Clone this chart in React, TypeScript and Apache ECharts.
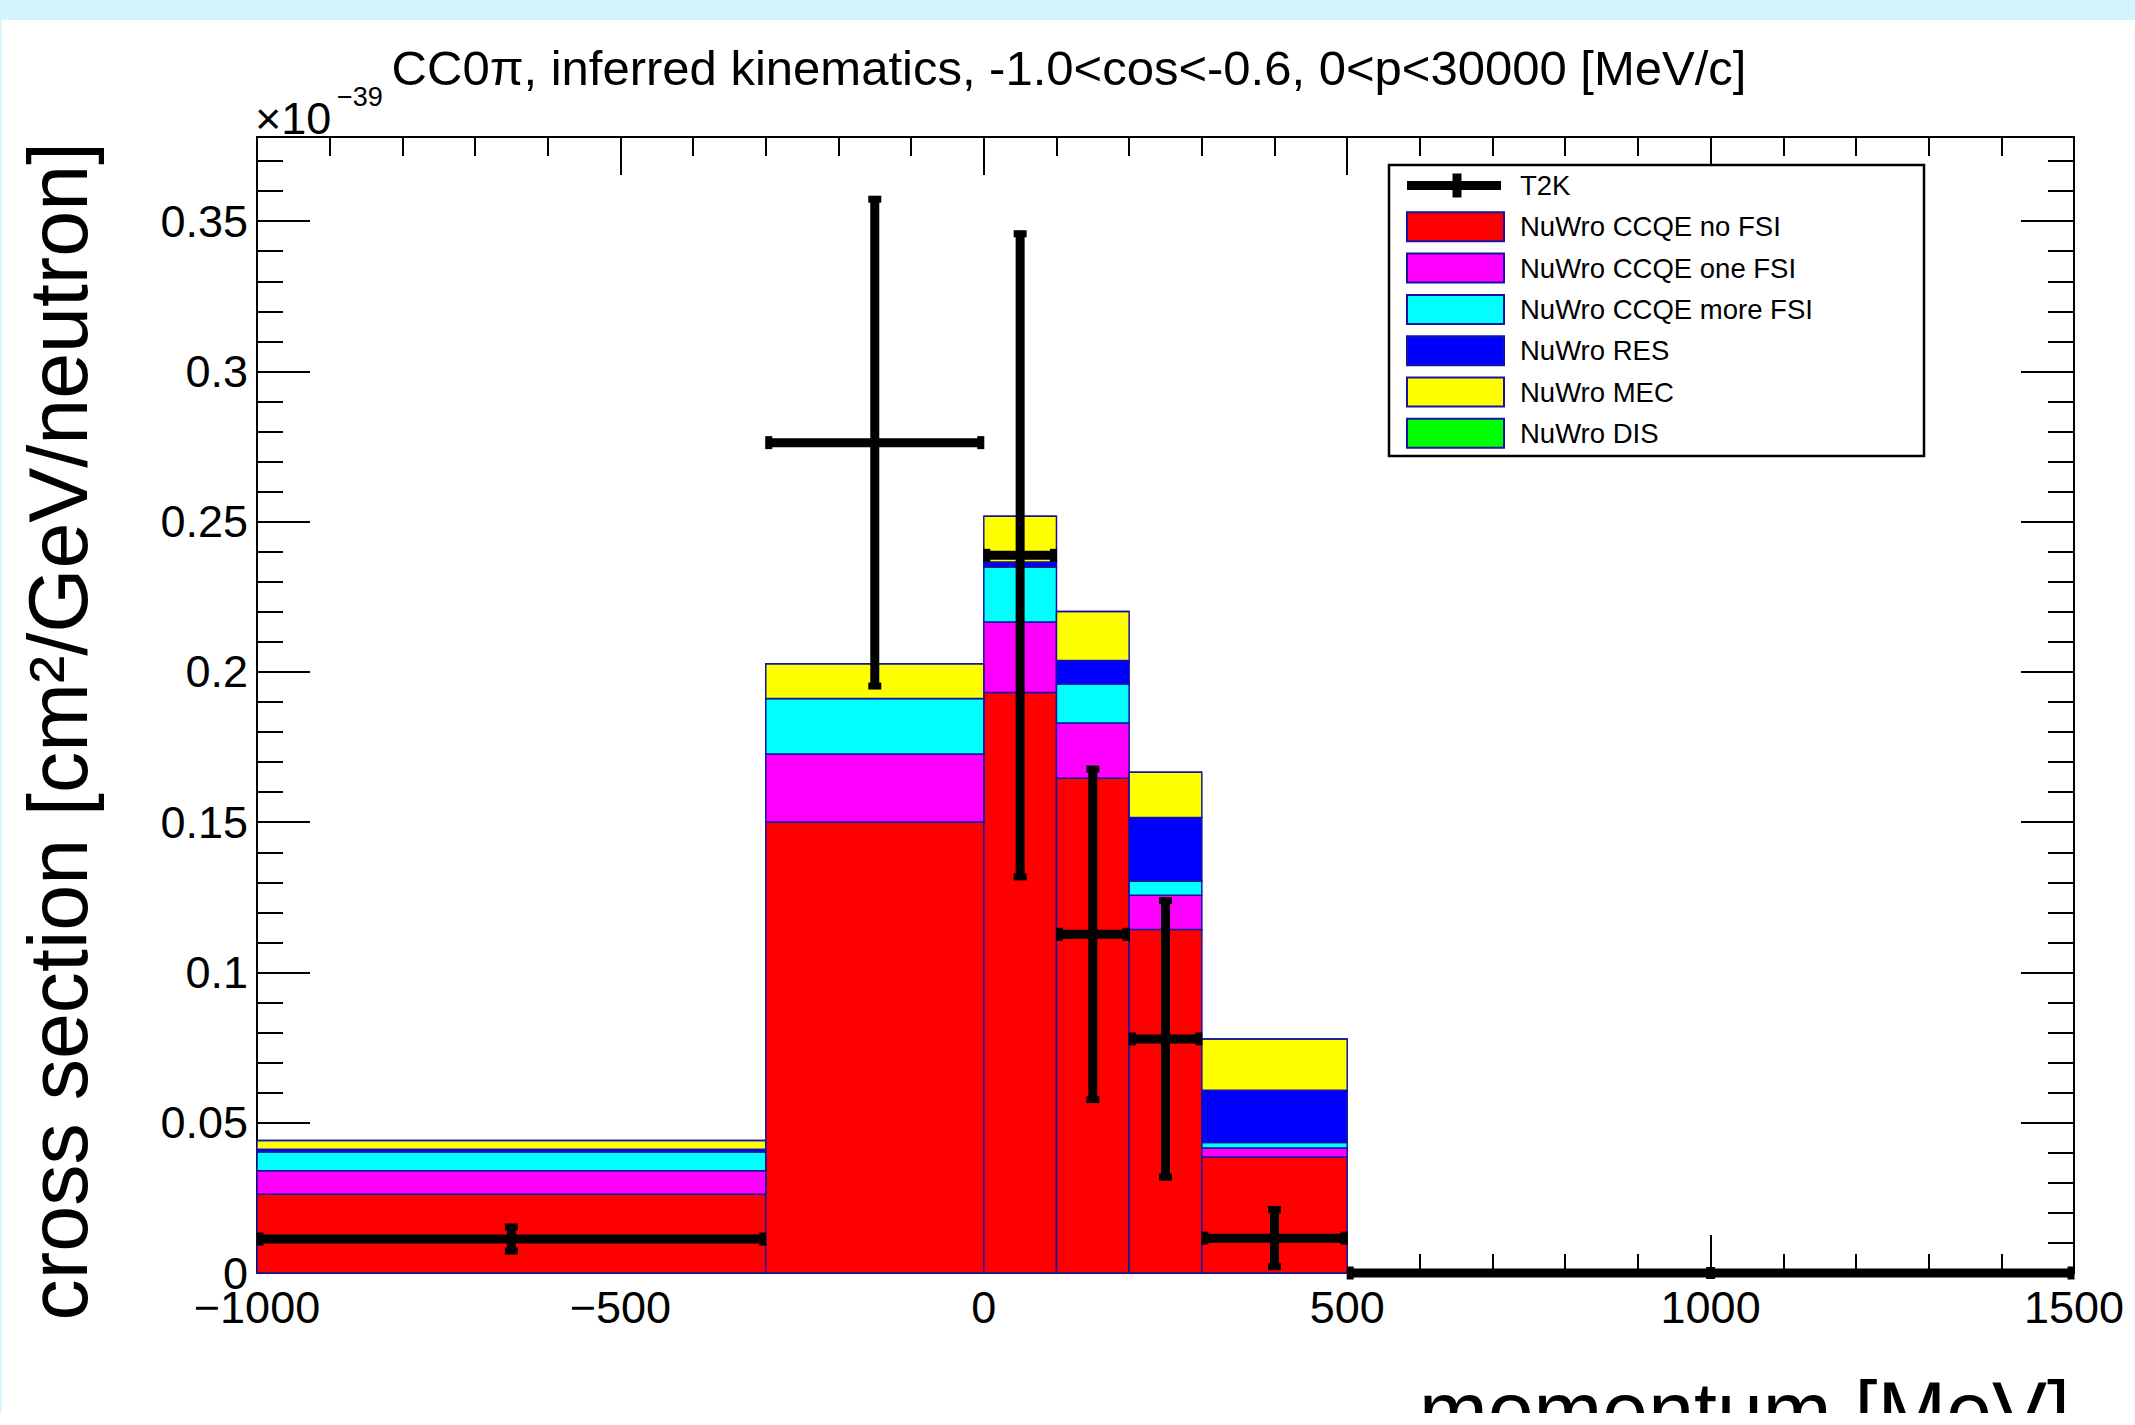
import React, { useEffect, useRef } from 'react';
import * as echarts from 'echarts';

// ---- data (values in units of 1e-39 cm^2/GeV/neutron) ----
const binEdges = [-1000, -300, 0, 100, 200, 300, 500, 1500];
const ccqeNoFsi = [0.0262, 0.1501, 0.1932, 0.1646, 0.1143, 0.0386, 0];
const ccqeOneFsi = [0.0078, 0.0226, 0.0234, 0.0184, 0.0114, 0.0030, 0];
const ccqeMoreFsi = [0.0063, 0.0185, 0.0183, 0.0130, 0.0047, 0.0018, 0];
const resValues = [0.0009, 0.0000, 0.0017, 0.0078, 0.0212, 0.0174, 0];
const mecValues = [0.0029, 0.0115, 0.0152, 0.0163, 0.0150, 0.0171, 0];
const disValues = [0, 0, 0, 0, 0, 0, 0];

const t2kX = [-650, -150, 50, 150, 250, 400, 1000];
const t2kXErr = [350, 150, 50, 50, 50, 100, 500];
const t2kY = [0.0113, 0.2763, 0.2388, 0.1127, 0.0779, 0.0116, 0];
const t2kYErr = [0.005, 0.082, 0.108, 0.056, 0.047, 0.0105, 0];

const componentNames = [
  'NuWro CCQE no FSI',
  'NuWro CCQE one FSI',
  'NuWro CCQE more FSI',
  'NuWro RES',
  'NuWro MEC',
  'NuWro DIS',
];
const componentValues = [ccqeNoFsi, ccqeOneFsi, ccqeMoreFsi, resValues, mecValues, disValues];
const componentColors = ['#ff0000', '#ff00ff', '#00ffff', '#0000ff', '#ffff00', '#00ff00'];
const dataLabel = 'T2K';

const titleText = 'CC0\u03c0, inferred kinematics, -1.0<cos<-0.6, 0<p<30000 [MeV/c]';
const xTitle = 'momentum [MeV]';
const yTitle = 'cross section [cm\u00b2/GeV/neutron]';

const X_MIN = -1000;
const X_MAX = 1500;
const Y_MIN = 0;
const Y_MAX = 0.378;

const FONT = "'Liberation Sans', Arial, Helvetica, sans-serif";
const EDGE = '#1414a0';

function buildOption(): any {
  const stackSeries = componentValues.map((vals, ci) => ({
    type: 'custom',
    name: componentNames[ci],
    xAxisIndex: 0,
    yAxisIndex: 0,
    z: 2,
    encode: { x: [0, 1], y: [2, 3] },
    data: vals.map((v, i) => {
      let base = 0;
      for (let k = 0; k < ci; k++) base += componentValues[k][i];
      return [binEdges[i], binEdges[i + 1], base, base + v];
    }),
    renderItem: (_p: any, api: any) => {
      const tl = api.coord([api.value(0), api.value(3)]);
      const br = api.coord([api.value(1), api.value(2)]);
      return {
        type: 'rect',
        shape: { x: tl[0], y: tl[1], width: br[0] - tl[0], height: br[1] - tl[1] },
        style: { fill: componentColors[ci], stroke: EDGE, lineWidth: 1.5 },
      };
    },
  }));

  const t2kSeries = {
    type: 'custom',
    name: dataLabel,
    xAxisIndex: 0,
    yAxisIndex: 0,
    z: 5,
    encode: { x: 0, y: 2 },
    data: t2kX.map((x, i) => [x, t2kXErr[i], t2kY[i], t2kYErr[i]]),
    renderItem: (_p: any, api: any) => {
      const x = api.value(0);
      const xe = api.value(1);
      const y = api.value(2);
      const ye = api.value(3);
      const pl = api.coord([x - xe, y]);
      const pr = api.coord([x + xe, y]);
      const pt = api.coord([x, y + ye]);
      const pb = api.coord([x, y - ye]);
      const st = { stroke: '#000', lineWidth: 9 };
      const cap = { stroke: '#000', lineWidth: 7 };
      const children: any[] = [
        { type: 'line', shape: { x1: pl[0], y1: pl[1], x2: pr[0], y2: pr[1] }, style: st },
        { type: 'line', shape: { x1: pl[0] + 3, y1: pl[1] - 6.5, x2: pl[0] + 3, y2: pl[1] + 6.5 }, style: cap },
        { type: 'line', shape: { x1: pr[0] - 3, y1: pr[1] - 6.5, x2: pr[0] - 3, y2: pr[1] + 6.5 }, style: cap },
      ];
      if (ye > 0) {
        children.push({ type: 'line', shape: { x1: pt[0], y1: pt[1], x2: pb[0], y2: pb[1] }, style: st });
        children.push({ type: 'line', shape: { x1: pt[0] - 6.5, y1: pt[1] + 3, x2: pt[0] + 6.5, y2: pt[1] + 3 }, style: cap });
        children.push({ type: 'line', shape: { x1: pb[0] - 6.5, y1: pb[1] - 3, x2: pb[0] + 6.5, y2: pb[1] - 3 }, style: cap });
      } else {
        children.push({ type: 'line', shape: { x1: pt[0], y1: pt[1] - 6, x2: pt[0], y2: pt[1] + 6 }, style: st });
      }
      return { type: 'group', children };
    },
  };

  const axisLine = { show: true, onZero: false, lineStyle: { color: '#000', width: 2 } };
  const tickStyle = { color: '#000', width: 2 };
  const xLabel = {
    show: true,
    fontSize: 45,
    fontFamily: FONT,
    color: '#000',
    margin: 12,
    formatter: (v: number) => (v < 0 ? '\u2212' + String(-v) : String(v)),
  };
  const xAxisBase = {
    type: 'value',
    min: X_MIN,
    max: X_MAX,
    interval: 500,
    axisLine,
    axisTick: { show: true, inside: true, length: 38, lineStyle: tickStyle },
    minorTick: { show: true, splitNumber: 5, length: 19, lineStyle: tickStyle },
    splitLine: { show: false },
    minorSplitLine: { show: false },
  };
  const yMajorBase = {
    type: 'value',
    min: Y_MIN,
    max: Y_MAX,
    interval: 0.05,
    axisLine,
    axisTick: { show: true, inside: true, length: 53, lineStyle: tickStyle },
    splitLine: { show: false },
  };
  const yMinorBase = {
    type: 'value',
    min: Y_MIN,
    max: Y_MAX,
    interval: 0.01,
    axisLine: { show: false, onZero: false },
    axisTick: { show: true, inside: true, length: 26, lineStyle: tickStyle },
    axisLabel: { show: false },
    splitLine: { show: false },
  };

  const legendX = 1389;
  const legendY = 165;
  const legendW = 535;
  const legendH = 291;
  const rowY0 = 185.5;
  const rowStep = 41.3;
  const legendEls: any[] = [
    {
      type: 'rect',
      shape: { x: legendX, y: legendY, width: legendW, height: legendH },
      style: { fill: '#fff', stroke: '#000', lineWidth: 2.5 },
      z: 20,
    },
    {
      type: 'line',
      shape: { x1: 1407, y1: rowY0, x2: 1501, y2: rowY0 },
      style: { stroke: '#000', lineWidth: 9 },
      z: 21,
    },
    {
      type: 'line',
      shape: { x1: 1457, y1: rowY0 - 12, x2: 1457, y2: rowY0 + 12 },
      style: { stroke: '#000', lineWidth: 9 },
      z: 21,
    },
    {
      type: 'text',
      x: 1520,
      y: rowY0,
      z: 21,
      style: { text: dataLabel, fontSize: 27.5, fontFamily: FONT, fill: '#000', textAlign: 'left', textVerticalAlign: 'middle' },
    },
  ];
  componentNames.forEach((name, i) => {
    const cy = rowY0 + (i + 1) * rowStep;
    legendEls.push({
      type: 'rect',
      shape: { x: 1407, y: cy - 14.5, width: 97, height: 29 },
      style: { fill: componentColors[i], stroke: EDGE, lineWidth: 2 },
      z: 21,
    });
    legendEls.push({
      type: 'text',
      x: 1520,
      y: cy,
      z: 21,
      style: { text: name, fontSize: 27.5, fontFamily: FONT, fill: '#000', textAlign: 'left', textVerticalAlign: 'middle' },
    });
  });

  return {
    animation: false,
    backgroundColor: '#ffffff',
    grid: {
      left: 257,
      top: 137,
      width: 1817,
      height: 1136,
      containLabel: false,
      outerBoundsMode: 'none',
      show: false,
    },
    xAxis: [
      { ...xAxisBase, position: 'bottom', axisLabel: xLabel },
      { ...xAxisBase, position: 'top', axisLabel: { show: false } },
    ],
    yAxis: [
      {
        ...yMajorBase,
        position: 'left',
        axisLabel: {
          show: true,
          fontSize: 45,
          fontFamily: FONT,
          color: '#000',
          margin: 9,
          showMaxLabel: false,
          formatter: (v: number) => (v === 0 ? '0' : String(+v.toFixed(2))),
        },
      },
      { ...yMajorBase, position: 'right', axisLabel: { show: false } },
      { ...yMinorBase, position: 'left' },
      { ...yMinorBase, position: 'right' },
    ],
    series: [...stackSeries, t2kSeries],
    graphic: [
      { type: 'rect', shape: { x: 0, y: 0, width: 2135, height: 20 }, style: { fill: '#d3f4fe' }, z: 30 },
      { type: 'rect', shape: { x: 0, y: 20, width: 1.5, height: 1405 }, style: { fill: '#d3f4fe' }, z: 30 },
      {
        type: 'text',
        x: 1069,
        y: 68,
        style: { text: titleText, fontSize: 49, fontFamily: FONT, fill: '#000', textAlign: 'center', textVerticalAlign: 'middle' },
      },
      {
        type: 'text',
        x: 255,
        y: 118,
        style: { text: '\u00d710', fontSize: 45, fontFamily: FONT, fill: '#000', textAlign: 'left', textVerticalAlign: 'middle' },
      },
      {
        type: 'text',
        x: 337,
        y: 97,
        style: { text: '\u221239', fontSize: 27, fontFamily: FONT, fill: '#000', textAlign: 'left', textVerticalAlign: 'middle' },
      },
      {
        type: 'text',
        x: 58,
        y: 142,
        rotation: Math.PI / 2,
        style: { text: yTitle, fontSize: 82.5, fontFamily: FONT, fill: '#000', textAlign: 'right', textVerticalAlign: 'middle' },
      },
      {
        type: 'text',
        x: 2070,
        y: 1411,
        style: { text: xTitle, fontSize: 82.5, fontFamily: FONT, fill: '#000', textAlign: 'right', textVerticalAlign: 'middle' },
      },
      { type: 'rect', shape: { x: 0, y: 1413, width: 2135, height: 12 }, style: { fill: '#ffffff' }, z: 40 },
      ...legendEls,
    ],
  };
}

export default function App() {
  const ref = useRef<HTMLDivElement>(null);
  useEffect(() => {
    document.body.style.margin = '0';
    if (!ref.current) return;
    const chart = echarts.init(ref.current, undefined, { renderer: 'svg' });
    chart.setOption(buildOption());
    return () => {
      chart.dispose();
    };
  }, []);
  return <div ref={ref} style={{ width: 2135, height: 1425 }} />;
}
